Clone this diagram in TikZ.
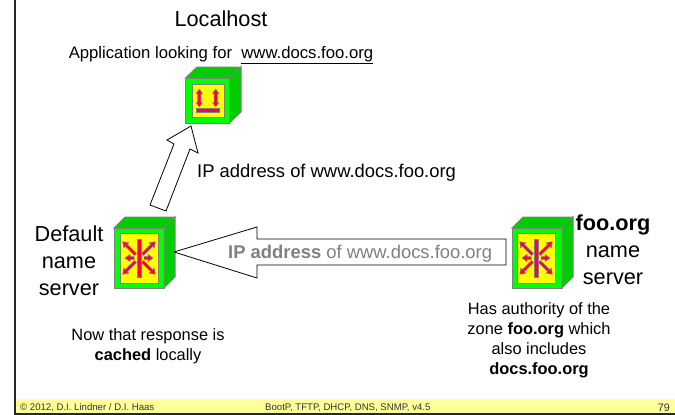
\documentclass[tikz,border=0pt]{standalone}
\usepackage{fontspec}
\setmainfont{Liberation Sans}
\definecolor{facegreen}{RGB}{0,255,0}
\definecolor{sidegreen}{RGB}{0,204,0}
\definecolor{screenyellow}{RGB}{255,255,0}
\definecolor{edgegray}{RGB}{128,128,128}
\definecolor{footyellow}{RGB}{255,255,153}
\definecolor{signred}{RGB}{255,0,64}
\tikzset{
	face/.style={draw=edgegray,line width=1pt,fill=facegreen},
	side/.style={draw=edgegray,line width=1pt,fill=sidegreen},
	screen/.style={draw=edgegray,line width=1pt,fill=screenyellow},
	blockarrow/.style={draw=black,line width=0.8pt,fill=white,line join=miter},
	sign/.style={draw=edgegray,line width=0.5pt,fill=signred},
	big/.style={font=\fontsize{21.7}{27}\selectfont,align=center},
	mid/.style={font=\fontsize{16.7}{20}\selectfont,align=center},
	wide/.style={font=\fontsize{18.4}{22}\selectfont,align=center},
	small/.style={font=\fontsize{16.4}{20}\selectfont,align=center},
	foot/.style={font=\fontsize{9.6}{11}\selectfont,text=black!80},
}
\begin{document}
\begin{tikzpicture}[x=1pt,y=-1pt]
	\useasboundingbox (0,0) rectangle (675,415);
	\fill [footyellow] (15,399) rectangle (675,413);
	\draw [line width=2.2pt,black!85] (15,0) -- (15,414) -- (675,414);

	\node [big] (localhost) at (221,19) {Localhost};
	\node [mid] (looking) at (221,55) {Application looking for \ \underline{www.docs.foo.org}};
	\node [wide,anchor=west,inner xsep=0pt] (ipup) at (197,173) {IP address of www.docs.foo.org};
	\node [big] (default) at (69,261) {Default\\name\\server};
	\node [big] (fooname) at (613,250) {\textbf{foo.org}\\name\\server};
	\node [small] (cached) at (148,346.5) {Now that response is\\\textbf{cached} locally};
	\node [small] (authority) at (539,340) {Has authority of the\\zone \textbf{foo.org} which\\also includes\\\textbf{docs.foo.org}};
	\node [foot,anchor=west,inner xsep=0pt] (copyright) at (20,407.5) {© 2012, D.I. Lindner / D.I. Haas};
	\node [foot,anchor=west,inner xsep=0pt] (title) at (265,407.5) {BootP, TFTP, DHCP, DNS, SNMP, v4.5};
	\node [foot,anchor=east,inner xsep=0pt,font=\fontsize{10.8}{12}\selectfont] (page) at (670,407.5) {79};

	\draw [face] (185.5,78) rectangle (229.5,123);
	\draw [side] (185.5,78) -- (197,67) -- (241,67) -- (229.5,78) -- cycle;
	\draw [side] (229.5,78) -- (241,67) -- (241,112) -- (229.5,123) -- cycle;
	\draw [screen] (192,84) rectangle (224,117);
	\foreach \sx in {199.3,215.7} {
		\begin{scope}[shift={(\sx,98)}]
			\draw [sign] (0,-9) -- (3.2,-4.5) -- (1.6,-4.5) -- (1.6,4.5) -- (3.2,4.5) -- (0,9) -- (-3.2,4.5) -- (-1.6,4.5) -- (-1.6,-4.5) -- (-3.2,-4.5) -- cycle;
		\end{scope}
	}
	\draw [sign] (196,108) rectangle (219,112);

	\draw [face] (114,228) rectangle (164,288);
	\draw [side] (114,228) -- (125,217) -- (175,217) -- (164,228) -- cycle;
	\draw [side] (164,228) -- (175,217) -- (175,277) -- (164,288) -- cycle;
	\draw [screen] (120,233) rectangle (158,283);

	\draw [face] (512,228) rectangle (562,288);
	\draw [side] (512,228) -- (523,217) -- (573,217) -- (562,228) -- cycle;
	\draw [side] (562,228) -- (573,217) -- (573,277) -- (562,288) -- cycle;
	\draw [screen] (517,233) rectangle (555,283);

	\foreach \cx in {139,536} {
		\draw [sign] (\cx-2,239) rectangle (\cx+2,277);
		\foreach \ang/\len in {0/14,45/23,135/23,180/14,225/23,315/23} {
			\begin{scope}[shift={(\cx,258)},rotate=\ang]
				\draw [sign] (5,-1.5) -- (\len-5,-1.5) -- (\len-5,-3.6) -- (\len,0) -- (\len-5,3.6) -- (\len-5,1.5) -- (5,1.5) -- cycle;
			\end{scope}
		}
	}

	\draw [blockarrow] (150,205) -- (174,144) -- (167,140) -- (191,126) -- (198,153) -- (190,149) -- (166,211) -- cycle;
	\draw [blockarrow] (174,252) -- (257,227) -- (257,239) -- (506,239) -- (506,265) -- (257,265) -- (257,278) -- cycle;
	\node [wide,anchor=west,inner xsep=0pt] (ipleft) at (228,254) {\textcolor{edgegray}{\textbf{IP address} of www.docs.foo.org}};
\end{tikzpicture}
\end{document}
